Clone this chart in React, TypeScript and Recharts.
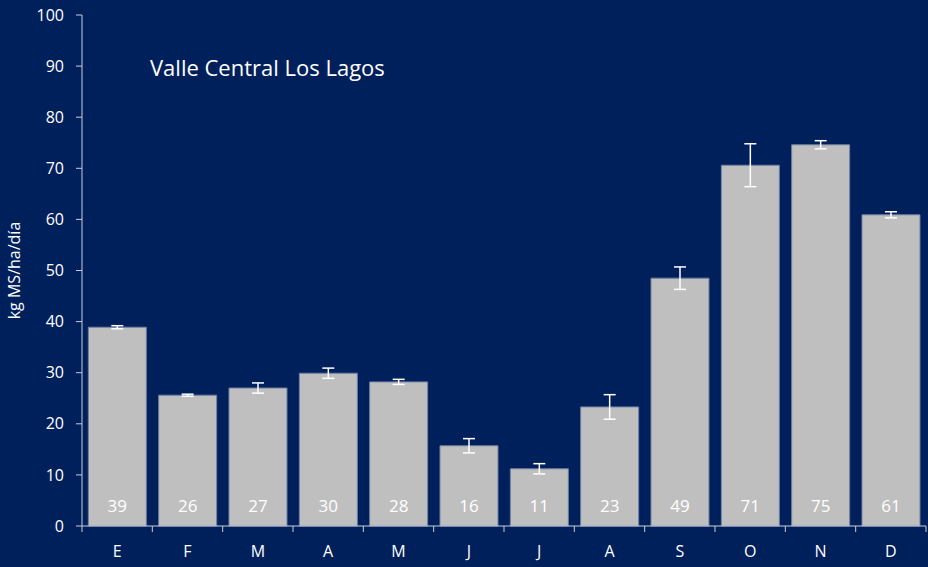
import { BarChart, Bar, XAxis, YAxis, ErrorBar, LabelList } from 'recharts'

const months = ['E', 'F', 'M', 'A', 'M', 'J', 'J', 'A', 'S', 'O', 'N', 'D']
const growth = [38.9, 25.6, 27.0, 29.9, 28.2, 15.7, 11.2, 23.3, 48.5, 70.6, 74.6, 60.9]
const spread = [0.3, 0.2, 1.0, 1.0, 0.5, 1.4, 1.0, 2.4, 2.2, 4.2, 0.8, 0.6]
const yTicks = [0, 10, 20, 30, 40, 50, 60, 70, 80, 90, 100]

const data = months.map((m, i) => ({ month: m, value: growth[i], err: spread[i] }))

const BG = '#00205b'
const AXIS = '#c8ccd8'
const FONT = '"Open Sans", sans-serif'

const MonthTick = (props: any) => {
  const { x, y, payload, index } = props
  const half = payload.offset ?? 35
  return (
    <g>
      <line x1={x - half} x2={x - half} y1={y} y2={y + 6} stroke={AXIS} />
      {index === months.length - 1 && (
        <line x1={x + half} x2={x + half} y1={y} y2={y + 6} stroke={AXIS} />
      )}
      <text x={x} y={y + 31} textAnchor="middle" fill="#fff" fontSize={16} fontFamily={FONT}>
        {payload.value}
      </text>
    </g>
  )
}

const App = () => {
  return (
    <div style={{ position: 'absolute', left: 0, top: 0, width: 928, height: 567, background: BG }}>
      <BarChart
        width={928}
        height={567}
        data={data}
        margin={{ top: 15, right: 2, left: 0, bottom: 0 }}
        barCategoryGap="9%"
      >
        <XAxis
          dataKey="month"
          height={41}
          axisLine={{ stroke: AXIS }}
          tickLine={false}
          tickSize={0}
          tickMargin={0}
          interval={0}
          tick={<MonthTick />}
        />
        <YAxis
          width={82}
          domain={[0, 100]}
          ticks={yTicks}
          interval={0}
          axisLine={{ stroke: AXIS }}
          tickLine={{ stroke: AXIS }}
          tickSize={6}
          tickMargin={12}
          tick={{ fill: '#fff', fontSize: 16, fontFamily: FONT }}
          label={{
            value: 'kg MS/ha/día',
            angle: -90,
            position: 'insideLeft',
            offset: 14,
            fill: '#fff',
            fontSize: 16,
            fontFamily: FONT,
            style: { textAnchor: 'middle' },
          }}
        />
        <Bar dataKey="value" fill="#bfbfbf" stroke="#6f7fa3" strokeWidth={1} isAnimationActive={false}>
          <ErrorBar dataKey="err" direction="y" width={6} stroke="#ffffff" strokeWidth={1.5} />
          <LabelList
            dataKey="value"
            position="insideBottom"
            offset={14}
            fill="#ffffff"
            fontSize={17}
            fontFamily={FONT}
            formatter={(v: any) => Math.round(Number(v))}
          />
        </Bar>
      </BarChart>
      <div
        style={{
          position: 'absolute',
          left: 150,
          top: 52,
          color: '#fff',
          fontSize: 22,
          fontFamily: FONT,
          whiteSpace: 'nowrap',
        }}
      >
        Valle Central Los Lagos
      </div>
    </div>
  )
}

export default App
